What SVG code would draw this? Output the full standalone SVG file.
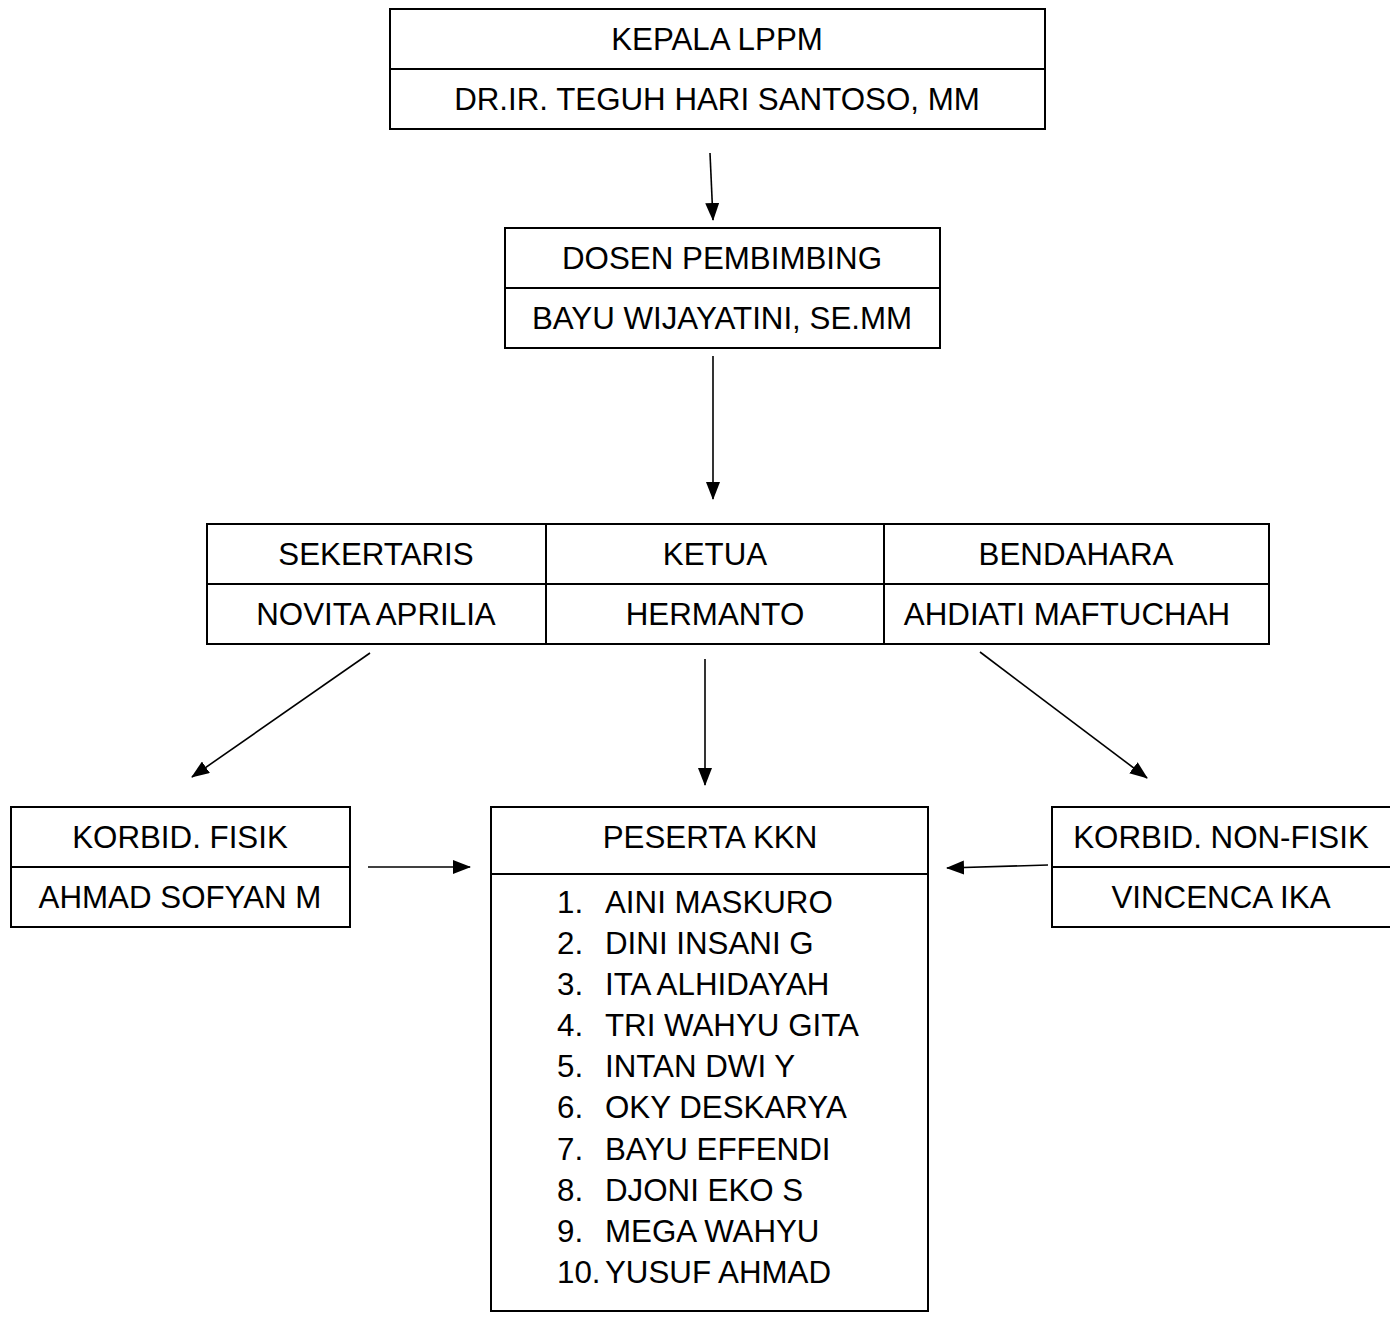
<svg xmlns="http://www.w3.org/2000/svg" width="1390" height="1319" viewBox="0 0 1390 1319">
<style>
.box{fill:#fff;stroke:#000;stroke-width:2}
.div{stroke:#000;stroke-width:2}
.t{font-family:"Liberation Sans",Arial,sans-serif;font-size:31.3px;fill:#000;text-anchor:middle}
.l{font-family:"Liberation Sans",Arial,sans-serif;font-size:31.3px;fill:#000}
.c{stroke:#000;stroke-width:1.6;fill:none;marker-end:url(#ah)}
</style>
<defs>
<marker id="ah" markerUnits="userSpaceOnUse" markerWidth="18" markerHeight="14" viewBox="0 0 18 14" refX="17" refY="7" orient="auto">
<path d="M0,0 L18,7 L0,14 Z" fill="#000"/>
</marker>
</defs>
<rect width="1390" height="1319" fill="#fff"/>
<g id="kepala">
<rect class="box" x="390" y="9" width="655" height="120"/>
<line class="div" x1="390" y1="69" x2="1045" y2="69"/>
<text class="t" x="717" y="50">KEPALA LPPM</text>
<text class="t" x="717" y="110">DR.IR. TEGUH HARI SANTOSO, MM</text>
</g>
<g id="dosen">
<rect class="box" x="505" y="228" width="435" height="120"/>
<line class="div" x1="505" y1="288" x2="940" y2="288"/>
<text class="t" x="722" y="269">DOSEN PEMBIMBING</text>
<text class="t" x="722" y="329">BAYU WIJAYATINI, SE.MM</text>
</g>
<g id="pengurus">
<rect class="box" x="207" y="524" width="1062" height="120"/>
<line class="div" x1="207" y1="584" x2="1269" y2="584"/>
<line class="div" x1="546" y1="524" x2="546" y2="644"/>
<line class="div" x1="884" y1="524" x2="884" y2="644"/>
</g>
<g id="sekertaris">
<text class="t" x="376" y="565">SEKERTARIS</text>
<text class="t" x="376" y="625">NOVITA APRILIA</text>
</g>
<g id="ketua">
<text class="t" x="715" y="565">KETUA</text>
<text class="t" x="715" y="625">HERMANTO</text>
</g>
<g id="bendahara">
<text class="t" x="1076" y="565">BENDAHARA</text>
<text class="t" x="1067" y="625">AHDIATI MAFTUCHAH</text>
</g>
<g id="korbid-fisik">
<rect class="box" x="11" y="807" width="339" height="120"/>
<line class="div" x1="11" y1="867" x2="350" y2="867"/>
<text class="t" x="180" y="848">KORBID. FISIK</text>
<text class="t" x="180" y="908">AHMAD SOFYAN M</text>
</g>
<g id="peserta">
<rect class="box" x="491" y="807" width="437" height="504"/>
<line class="div" x1="491" y1="874" x2="928" y2="874"/>
<text class="t" x="710" y="848">PESERTA KKN</text>
<text class="l" y="913"><tspan x="557">1.</tspan><tspan x="605">AINI MASKURO</tspan></text>
<text class="l" y="954"><tspan x="557">2.</tspan><tspan x="605">DINI INSANI G</tspan></text>
<text class="l" y="995"><tspan x="557">3.</tspan><tspan x="605">ITA ALHIDAYAH</tspan></text>
<text class="l" y="1036"><tspan x="557">4.</tspan><tspan x="605">TRI WAHYU GITA</tspan></text>
<text class="l" y="1077"><tspan x="557">5.</tspan><tspan x="605">INTAN DWI Y</tspan></text>
<text class="l" y="1118"><tspan x="557">6.</tspan><tspan x="605">OKY DESKARYA</tspan></text>
<text class="l" y="1160"><tspan x="557">7.</tspan><tspan x="605">BAYU EFFENDI</tspan></text>
<text class="l" y="1201"><tspan x="557">8.</tspan><tspan x="605">DJONI EKO S</tspan></text>
<text class="l" y="1242"><tspan x="557">9.</tspan><tspan x="605">MEGA WAHYU</tspan></text>
<text class="l" y="1283"><tspan x="557">10.</tspan><tspan x="605">YUSUF AHMAD</tspan></text>
</g>
<g id="korbid-nonfisik">
<rect class="box" x="1052" y="807" width="340" height="120"/>
<line class="div" x1="1052" y1="867" x2="1392" y2="867"/>
<text class="t" x="1221" y="848">KORBID. NON-FISIK</text>
<text class="t" x="1221" y="908">VINCENCA IKA</text>
</g>
<g id="connectors">
<line class="c" x1="710" y1="153" x2="713" y2="220"/>
<line class="c" x1="713" y1="356" x2="713" y2="499"/>
<line class="c" x1="370" y1="653" x2="192" y2="777"/>
<line class="c" x1="705" y1="659" x2="705" y2="785"/>
<line class="c" x1="980" y1="652" x2="1147" y2="778"/>
<line class="c" x1="368" y1="867" x2="470" y2="867"/>
<line class="c" x1="1048" y1="865" x2="947" y2="868"/>
</g>
</svg>
